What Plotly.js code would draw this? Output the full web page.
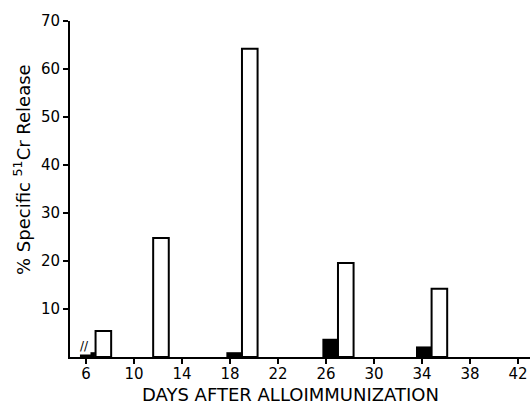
<!DOCTYPE html>
<html>
<head>
<meta charset="utf-8">
<script src="https://cdn.plot.ly/plotly-3.0.1.min.js"></script>
<style>html,body{margin:0;padding:0;background:#fff;}#chart{width:532px;height:405px;}</style>
</head>
<body>
<div id="chart"></div>
<script>
// Day positions of each pair of bars (days after alloimmunization)
const days = [6.8, 11.6, 19.0, 27.0, 34.8];
// Filled (black) bars: % specific 51Cr release
const filledValues = [1.0, 0.0, 1.0, 3.8, 2.2];
// Open (white) bars: % specific 51Cr release
const openValues = [5.4, 24.8, 64.2, 19.6, 14.2];
const xTicks = [6, 10, 14, 18, 22, 26, 30, 34, 38, 42];
const yTicks = [10, 20, 30, 40, 50, 60, 70];
const xTitle = 'DAYS AFTER ALLOIMMUNIZATION';
const yTitle = '% Specific <sup>51</sup>Cr Release';

const font = {family: 'DejaVu Sans, Liberation Sans, Arial, sans-serif', color: '#000'};

const traces = [
  {type: 'bar', x: days, y: filledValues, width: 1.25, offset: -1.3,
   marker: {color: '#000', line: {color: '#000', width: 0}}, showlegend: false, hoverinfo: 'skip'},
  {type: 'bar', x: days, y: openValues, width: 1.3, offset: 0,
   marker: {color: '#fff', line: {color: '#000', width: 2}}, showlegend: false, hoverinfo: 'skip'}
];

const layout = {
  width: 532, height: 405,
  margin: {l: 70, r: 2, t: 21, b: 48},
  paper_bgcolor: '#fff', plot_bgcolor: '#fff',
  font: Object.assign({size: 14}, font),
  barmode: 'overlay',
  xaxis: {
    range: [4.67, 43], tickvals: xTicks, ticktext: xTicks.map(String),
    showgrid: false, zeroline: false, showline: true, linecolor: '#000', linewidth: 2,
    ticks: 'outside', ticklen: 5, tickwidth: 2, tickcolor: '#000', ticklabelstandoff: -3,
    tickfont: Object.assign({size: 15}, font)
  },
  yaxis: {
    range: [0, 70], tickvals: yTicks, ticktext: yTicks.map(String),
    showgrid: false, zeroline: false, showline: true, linecolor: '#000', linewidth: 2,
    ticks: 'outside', ticklen: 5, tickwidth: 2, tickcolor: '#000',
    tickfont: Object.assign({size: 15}, font)
  },
  annotations: [
    {xref: 'paper', yref: 'paper', x: 0.48, y: 0, yanchor: 'middle', yshift: -37,
     text: xTitle, showarrow: false, font: Object.assign({size: 18}, font)},
    {xref: 'paper', yref: 'paper', x: -0.104, y: 0.557, xanchor: 'center', yanchor: 'middle',
     textangle: -90, text: yTitle, showarrow: false, font: Object.assign({size: 18}, font)},
    {xref: 'paper', yref: 'paper', x: 0.018, y: 0, yshift: 2, text: '//', showarrow: false,
     font: Object.assign({size: 12}, font), bgcolor: '#fff'}
  ]
};

Plotly.newPlot('chart', traces, layout, {staticPlot: true, displayModeBar: false});
</script>
</body>
</html>
